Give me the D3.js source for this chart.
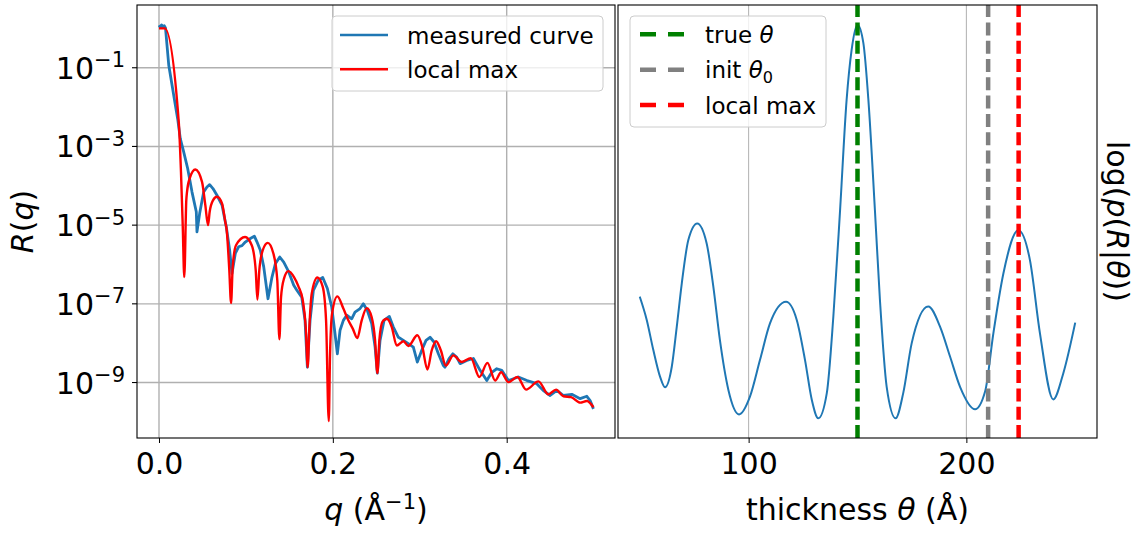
<!DOCTYPE html>
<html>
<head>
<meta charset="utf-8">
<script src="https://cdn.jsdelivr.net/npm/d3@7"></script>
<style>
  body { margin: 0; background: #fff; }
  svg text { font-family: "DejaVu Sans", sans-serif; fill: #000; }
</style>
</head>
<body>
<svg id="chart" width="1138" height="534"></svg>
<script>
// left panel: reflectivity curves (log10 R)
const measuredQ = [0.000, 0.0015, 0.003, 0.0045, 0.006, 0.0075, 0.0112, 0.015, 0.0188, 0.0215, 0.0245, 0.0284, 0.033, 0.038, 0.0429, 0.0437, 0.0468, 0.0514, 0.0552, 0.0583, 0.0621, 0.0667, 0.0725, 0.0763, 0.0775, 0.0813, 0.084, 0.0878, 0.0916, 0.0955, 0.0993, 0.1051, 0.1097, 0.1128, 0.1166, 0.1205, 0.1254, 0.13, 0.1339, 0.1389, 0.1435, 0.1493, 0.155, 0.1588, 0.1642, 0.168, 0.1707, 0.1738, 0.1776, 0.1833, 0.1884, 0.1937, 0.1987, 0.2025, 0.2052, 0.2083, 0.2121, 0.216, 0.2217, 0.2255, 0.2313, 0.2351, 0.2397, 0.2447, 0.2486, 0.2512, 0.2543, 0.2589, 0.265, 0.2696, 0.2754, 0.2812, 0.2869, 0.2926, 0.2972, 0.3023, 0.3072, 0.3118, 0.3164, 0.3214, 0.3272, 0.329, 0.3337, 0.338, 0.3426, 0.3464, 0.3541, 0.3617, 0.3694, 0.3771, 0.3829, 0.3886, 0.3943, 0.402, 0.4134, 0.4234, 0.4346, 0.4419, 0.45, 0.4577, 0.4653, 0.4749, 0.4845, 0.4922, 0.496, 0.4998];
const measuredLogR = [0.08, 0.03, 0.09, 0.02, 0.07, 0.01, -0.93, -1.44, -1.95, -2.30, -2.80, -3.14, -3.56, -4.16, -4.66, -5.17, -4.70, -4.16, -4.03, -3.97, -4.07, -4.24, -4.49, -4.92, -5.05, -5.64, -6.23, -5.72, -5.55, -5.52, -5.43, -5.34, -5.28, -5.43, -5.64, -6.06, -6.87, -6.32, -5.98, -5.81, -5.94, -6.19, -6.53, -6.66, -6.83, -7.42, -8.61, -7.42, -6.66, -6.40, -6.33, -6.61, -7.08, -7.76, -8.27, -7.67, -7.42, -7.29, -7.38, -7.21, -7.12, -7.00, -7.17, -7.50, -8.10, -8.76, -7.93, -7.42, -7.32, -7.59, -7.85, -7.93, -8.01, -8.10, -8.48, -8.18, -7.93, -7.85, -7.97, -8.27, -8.57, -8.61, -8.39, -8.27, -8.36, -8.52, -8.44, -8.39, -8.69, -8.95, -8.74, -8.65, -8.69, -8.95, -8.86, -8.95, -9.03, -9.20, -9.33, -9.20, -9.33, -9.30, -9.41, -9.35, -9.46, -9.67];

const localMaxQ = [0.000, 0.0066, 0.0227, 0.0253, 0.0273, 0.0291, 0.0314, 0.0322, 0.0353, 0.0418, 0.0495, 0.0533, 0.0564, 0.0583, 0.0621, 0.0667, 0.0725, 0.0763, 0.0779, 0.0809, 0.0829, 0.0848, 0.0886, 0.099, 0.1067, 0.1113, 0.1132, 0.1154, 0.1193, 0.1251, 0.1316, 0.1361, 0.1385, 0.1404, 0.1438, 0.1488, 0.1553, 0.1603, 0.1654, 0.1688, 0.1711, 0.173, 0.1757, 0.1822, 0.1884, 0.1922, 0.1953, 0.1968, 0.1991, 0.2052, 0.2121, 0.2178, 0.2229, 0.2282, 0.2332, 0.239, 0.2447, 0.2486, 0.2512, 0.2535, 0.257, 0.262, 0.2678, 0.2735, 0.2812, 0.2869, 0.2972, 0.303, 0.3088, 0.3138, 0.3188, 0.3242, 0.330, 0.3387, 0.3483, 0.3587, 0.3686, 0.3778, 0.3867, 0.3936, 0.402, 0.4123, 0.4223, 0.4365, 0.448, 0.4568, 0.4653, 0.4741, 0.4845, 0.4922, 0.4998];
const localMaxLogR = [0.00, 0.00, -2.37, -3.65, -5.00, -6.32, -4.37, -4.16, -3.81, -3.585, -3.90, -4.49, -5.00, -4.66, -4.37, -4.28, -4.45, -4.92, -5.13, -6.15, -6.98, -6.06, -5.51, -5.30, -5.51, -6.15, -6.89, -6.15, -5.64, -5.45, -5.72, -6.40, -7.90, -6.83, -6.36, -6.17, -6.32, -6.55, -6.91, -7.59, -8.61, -7.59, -6.74, -6.33, -6.57, -7.42, -9.98, -8.27, -7.25, -6.81, -7.12, -7.42, -7.63, -7.87, -7.42, -7.11, -7.34, -7.93, -8.76, -7.93, -7.46, -7.38, -7.59, -8.06, -7.95, -8.07, -7.80, -8.10, -8.67, -8.18, -7.95, -8.18, -8.57, -8.31, -8.48, -8.38, -8.86, -8.50, -8.95, -8.74, -8.99, -8.86, -9.18, -8.97, -9.30, -9.18, -9.35, -9.37, -9.51, -9.47, -9.63];

// right panel: log posterior over thickness (relative units, no tick labels)
const thickness = [50, 53.2, 56.2, 59.3, 61.6, 64.7, 67.0, 69.3, 72.3, 76.4, 80.7, 83.8, 86.8, 90.7, 95.6, 100.6, 105.2, 109.8, 117.2, 122.1, 125.9, 129.0, 132.0, 135.9, 138.9, 142.0, 145.0, 147.3, 150, 152.7, 155.0, 158.0, 160.3, 163.4, 167.5, 171.0, 174.9, 182.5, 187.9, 192.5, 197.1, 204.0, 208.6, 212.4, 217.0, 223.9, 229.2, 233.8, 239.9, 244.5, 250];
const logPosterior = [0.309, 0.250, 0.174, 0.106, 0.079, 0.131, 0.233, 0.343, 0.453, 0.495, 0.445, 0.334, 0.199, 0.072, 0.010, 0.055, 0.148, 0.241, 0.296, 0.250, 0.148, 0.047, 0.000, 0.064, 0.258, 0.529, 0.809, 0.936, 1.000, 0.953, 0.809, 0.529, 0.301, 0.080, 0.000, 0.064, 0.191, 0.284, 0.233, 0.157, 0.080, 0.023, 0.068, 0.216, 0.368, 0.478, 0.402, 0.216, 0.048, 0.114, 0.243];

const markerNames = ["true θ", "init θ0", "local max"];
const markerTheta = [150, 210, 224];
const markerColors = ["green", "gray", "red"];

const qTicks = [0, 0.2, 0.4];
const rTickExps = [-1, -3, -5, -7, -9];
const thetaTicks = [100, 200];

const svg = d3.select("#chart");
const L = { x0: 137, x1: 615, y0: 5, y1: 438 };
const R = { x0: 618, x1: 1097, y0: 5, y1: 438 };
const tickFont = 30, legendFont = 23;

const xq = d3.scaleLinear().domain([-0.0253, 0.5246]).range([L.x0, L.x1]);
const yr = d3.scaleLog().domain([Math.pow(10, -10.41), Math.pow(10, 0.595)]).range([L.y1, L.y0]);
const xt = d3.scaleLinear().domain([40, 260]).range([R.x0, R.x1]);
const yp = d3.scaleLinear().domain([-0.05, 1.05]).range([R.y1, R.y0]);

// text with italic / super / subscript parts
function richText(g, parts, size) {
    const t = g.append("text").attr("font-size", size);
    let shift = 0;
    parts.forEach(p => {
        const target = p.sup ? -0.38 * size : p.sub ? 0.22 * size : 0;
        const s = t.append("tspan").text(p.t).attr("dy", target - shift);
        shift = target;
        if (p.i) s.attr("font-style", "italic");
        if (p.sup || p.sub) s.attr("font-size", size * 0.7);
    });
    return t;
}

// ---------- left panel ----------
const gl = svg.append("g");

gl.selectAll(".vgrid").data(qTicks).enter().append("line")
    .attr("x1", d => xq(d)).attr("x2", d => xq(d))
    .attr("y1", L.y0).attr("y2", L.y1)
    .style("stroke", "#b0b0b0").style("stroke-width", 1.4);
gl.selectAll(".hgrid").data(rTickExps).enter().append("line")
    .attr("x1", L.x0).attr("x2", L.x1)
    .attr("y1", d => yr(Math.pow(10, d))).attr("y2", d => yr(Math.pow(10, d)))
    .style("stroke", "#b0b0b0").style("stroke-width", 1.4);

const measured = measuredQ.map((q, i) => [q, Math.pow(10, measuredLogR[i])]);
const localMax = localMaxQ.map((q, i) => [q, Math.pow(10, localMaxLogR[i])]);

gl.append("path")
    .attr("d", d3.line().x(d => xq(d[0])).y(d => yr(d[1]))(measured))
    .style("fill", "none").style("stroke", "#1f77b4").style("stroke-width", 2.8)
    .style("stroke-linejoin", "round");
gl.append("path")
    .attr("d", d3.line().curve(d3.curveMonotoneX).x(d => xq(d[0])).y(d => yr(d[1]))(localMax))
    .style("fill", "none").style("stroke", "red").style("stroke-width", 2.4)
    .style("stroke-linejoin", "round");

gl.append("rect")
    .attr("x", L.x0).attr("y", L.y0).attr("width", L.x1 - L.x0).attr("height", L.y1 - L.y0)
    .style("fill", "none").style("stroke", "#000").style("stroke-width", 1.1);

const xAxisL = gl.append("g")
    .attr("transform", `translate(0,${L.y1})`)
    .call(d3.axisBottom(xq).tickValues(qTicks).tickSize(5).tickPadding(10).tickFormat(d3.format(".1f")));
xAxisL.select(".domain").remove();
xAxisL.attr("font-size", tickFont).attr("font-family", "DejaVu Sans");

// y ticks with 10^n labels
const yTickG = gl.selectAll(".ytick").data(rTickExps).enter().append("g")
    .attr("transform", d => `translate(${L.x0},${yr(Math.pow(10, d))})`);
yTickG.append("line").attr("x1", -5).attr("x2", 0).style("stroke", "#000").style("stroke-width", 1.1);
yTickG.each(function (d) {
    richText(d3.select(this), [{ t: "10" }, { t: "\u2212" + Math.abs(d), sup: true }], tickFont)
        .attr("text-anchor", "end").attr("x", -12).attr("y", 11);
});

richText(gl, [{ t: "R", i: true }, { t: "(" }, { t: "q", i: true }, { t: ")" }], tickFont)
    .attr("text-anchor", "middle")
    .attr("transform", `translate(33,${(L.y0 + L.y1) / 2}) rotate(-90)`);
richText(gl, [{ t: "q", i: true }, { t: " (Å" }, { t: "\u22121", sup: true }, { t: ")" }], tickFont)
    .attr("text-anchor", "middle")
    .attr("transform", `translate(${(L.x0 + L.x1) / 2},520)`);

// left legend
const legL = gl.append("g");
legL.append("rect").attr("x", 332).attr("y", 16).attr("width", 271).attr("height", 75).attr("rx", 4)
    .style("fill", "#fff").style("fill-opacity", 0.8).style("stroke", "#cccccc").style("stroke-width", 1);
[["measured curve", "#1f77b4"], ["local max", "red"]].forEach((item, i) => {
    const y = 35 + i * 34.3;
    legL.append("line").attr("x1", 340).attr("x2", 388).attr("y1", y).attr("y2", y)
        .style("stroke", item[1]).style("stroke-width", 2.5);
    legL.append("text").attr("x", 407).attr("y", y + 8.5).attr("font-size", legendFont).text(item[0]);
});

// ---------- right panel ----------
const gr = svg.append("g");

gr.selectAll(".vgrid").data(thetaTicks).enter().append("line")
    .attr("x1", d => xt(d)).attr("x2", d => xt(d))
    .attr("y1", R.y0).attr("y2", R.y1)
    .style("stroke", "#b0b0b0").style("stroke-width", 1);

gr.append("path")
    .attr("d", d3.line().curve(d3.curveMonotoneX).x((d, i) => xt(thickness[i])).y(d => yp(d))(logPosterior))
    .style("fill", "none").style("stroke", "#1f77b4").style("stroke-width", 2);

gr.selectAll(".marker").data(markerTheta).enter().append("line")
    .attr("x1", d => xt(d)).attr("x2", d => xt(d))
    .attr("y1", R.y1).attr("y2", R.y0)
    .style("stroke", (d, i) => markerColors[i]).style("stroke-width", 4.5)
    .style("stroke-dasharray", "13,5.3");

gr.append("rect")
    .attr("x", R.x0).attr("y", R.y0).attr("width", R.x1 - R.x0).attr("height", R.y1 - R.y0)
    .style("fill", "none").style("stroke", "#000").style("stroke-width", 1.1);

const xAxisR = gr.append("g")
    .attr("transform", `translate(0,${R.y1})`)
    .call(d3.axisBottom(xt).tickValues(thetaTicks).tickSize(5).tickPadding(10).tickFormat(d3.format("d")));
xAxisR.select(".domain").remove();
xAxisR.attr("font-size", tickFont).attr("font-family", "DejaVu Sans");

richText(gr, [{ t: "thickness " }, { t: "θ", i: true }, { t: " (Å)" }], tickFont)
    .attr("text-anchor", "middle")
    .attr("transform", `translate(${(R.x0 + R.x1) / 2},520)`);
richText(gr, [{ t: "log(" }, { t: "p", i: true }, { t: "(" }, { t: "R", i: true }, { t: "|" }, { t: "θ", i: true }, { t: "))" }], tickFont)
    .attr("text-anchor", "middle")
    .attr("transform", `translate(1107,${(R.y0 + R.y1) / 2}) rotate(90)`);

// right legend
const legR = gr.append("g");
legR.append("rect").attr("x", 630).attr("y", 16).attr("width", 196).attr("height", 111).attr("rx", 4)
    .style("fill", "#fff").style("fill-opacity", 0.8).style("stroke", "#cccccc").style("stroke-width", 1);
const legendParts = [
    [{ t: "true " }, { t: "θ", i: true }],
    [{ t: "init " }, { t: "θ", i: true }, { t: "0", sub: true }],
    [{ t: "local max" }]
];
markerNames.forEach((name, i) => {
    const y = 34.3 + i * 35.4;
    legR.append("line").attr("x1", 640).attr("x2", 684).attr("y1", y).attr("y2", y)
        .style("stroke", markerColors[i]).style("stroke-width", 4.5)
        .style("stroke-dasharray", "16,12");
    richText(legR, legendParts[i], legendFont).attr("x", 705).attr("y", y + 8.5);
});
</script>
</body>
</html>
